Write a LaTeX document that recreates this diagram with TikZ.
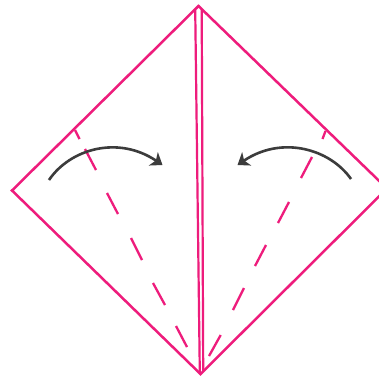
\documentclass[tikz,border=0pt]{standalone}
\usetikzlibrary{arrows.meta}
\definecolor{fold}{HTML}{EE1C7C}
\definecolor{turn}{HTML}{3C3C3C}
\tikzset{
  edgeline/.style={draw=fold,line width=2.5pt,line join=miter},
  foldline/.style={draw=fold,line width=2.2pt},
  valley/.style={draw=fold,line width=2.3pt},
  turnarrow/.style={draw=turn,line width=2.6pt,-{Stealth[length=11pt,width=16pt,inset=3pt]}}
}
\begin{document}
\begin{tikzpicture}[x=1pt,y=-1pt]
\useasboundingbox (0,0) rectangle (379,376);
\clip (0,0) rectangle (379,376);
\fill[white] (0,0) rectangle (379,376);
\coordinate (T) at (198.5,6);
\coordinate (L) at (12,190.5);
\coordinate (B) at (200.5,374);
\coordinate (R) at (387,188.5);
\coordinate (TA) at (195.2,9);
\coordinate (TB) at (201.7,9);
\coordinate (BA) at (199.8,373);
\coordinate (BB) at (203.2,371);
\draw[edgeline] (T) -- (L) -- (B) -- (R) -- cycle;
\draw[foldline] (TA) -- (BA);
\draw[foldline] (TB) -- (BB);
\foreach \a/\b/\c/\d in {75/130/79.5/139, 85/149/96/170, 107/193/118/214, 131/238/142/260, 153/283/165/305, 176/326/187/347,
  325.5/131/322.5/139, 312/157/301/178, 289/202/278/223, 266/245/255/266, 244/288/233/310, 220.7/335/209/356}
  \draw[valley] (\a,\b) -- (\c,\d);
\coordinate (A1) at (49,180);
\coordinate (A2) at (162.5,165);
\coordinate (B1) at (351,179);
\coordinate (B2) at (237.5,165);
\draw[turnarrow] (A1) .. controls (70,149) and (118,135) .. (A2);
\draw[turnarrow] (B1) .. controls (330,149) and (282,135) .. (B2);
\end{tikzpicture}
\end{document}
